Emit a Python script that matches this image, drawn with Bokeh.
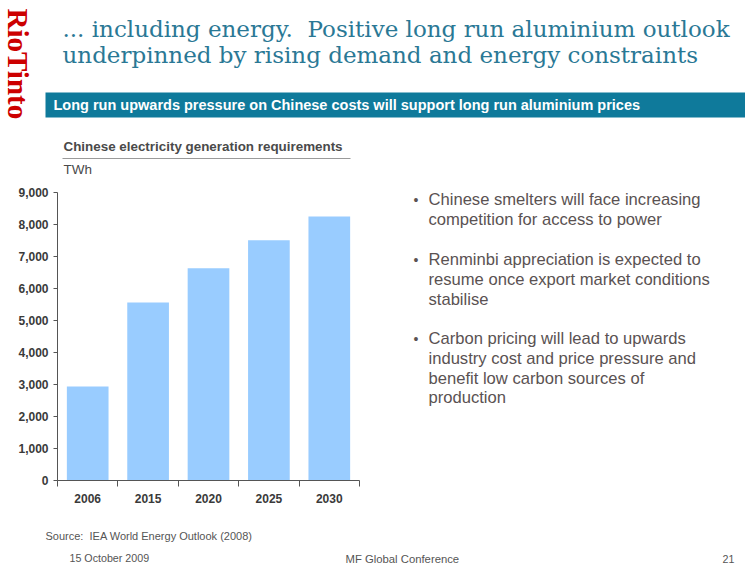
from bokeh.plotting import figure
from bokeh.layouts import column, row
from bokeh.models import (Range1d, LinearAxis, FixedTicker, NumeralTickFormatter,
                          Label, BoxAnnotation, ColumnDataSource)
from bokeh.embed import file_html
from bokeh.resources import INLINE
import numpy as np

# ---------------- data ----------------
years = ["2006", "2015", "2020", "2025", "2030"]
twh = [2940, 5560, 6630, 7510, 8250]
y_ticks = [0, 1000, 2000, 3000, 4000, 5000, 6000, 7000, 8000, 9000]

NB = "\u00a0"
title_lines = ["... including energy." + NB + " Positive long run aluminium outlook",
               "underpinned by rising demand and energy constraints"]
banner_text = "Long run upwards pressure on Chinese costs will support long run aluminium prices"
chart_title = "Chinese electricity generation requirements"
unit_text = "TWh"
bullets = [
    ["Chinese smelters will face increasing", "competition for access to power"],
    ["Renminbi appreciation is expected to", "resume once export market conditions", "stabilise"],
    ["Carbon pricing will lead to upwards", "industry cost and price pressure and",
     "benefit low carbon sources of", "production"],
]
source_text = "Source:" + NB + " IEA World Energy Outlook (2008)"
date_text = "15 October 2009"
conf_text = "MF Global Conference"
page_text = "21"
logo_text = "RioTinto"

# ---------------- layout constants ----------------
W, H = 745, 567
SANS = "Liberation Sans"
SERIF = "Liberation Serif"
TITLE_FONT = "DejaVu Serif"


def panel(x0, x1, y0, y1, fl=None, fr=None):
    """A blank figure covering page pixels x0..x1, y0..y1 (y downward).
    If fl/fr are given, the frame spans page x fl..fr only."""
    kw = dict(min_border=0)
    xr = Range1d(x0, x1)
    if fl is not None:
        kw = dict(min_border_left=fl - x0, min_border_right=x1 - fr,
                  min_border_top=0, min_border_bottom=0)
        xr = Range1d(fl, fr)
    f = figure(width=x1 - x0, height=y1 - y0, output_backend="svg",
               toolbar_location=None, x_range=xr,
               y_range=Range1d(y1, y0), x_axis_location=None,
               y_axis_location=None, **kw)
    f.outline_line_color = None
    f.grid.visible = False
    f.background_fill_color = "white"
    f.border_fill_color = "white"
    return f


def lab(f, x, y, text, size, color, font=SANS, style="normal", align="left",
        baseline="middle", angle=0):
    f.add_layout(Label(x=x, y=y, text=text, text_font=font,
                       text_font_size=size, text_color=color,
                       text_font_style=style, text_align=align,
                       text_baseline=baseline, angle=angle))


def box(f, l, r, t, b, color):
    f.add_layout(BoxAnnotation(left=l, right=r, top=t, bottom=b,
                               fill_color=color, fill_alpha=1, line_color=None))


# ---- top: logo, title, banner ----
top = panel(0, W, 0, 130)
lab(top, 17, 8, logo_text, "29px", "#cc0000", font=SERIF, style="bold",
    angle=-np.pi / 2)
lab(top, 62, 28.5, title_lines[0], "23px", "#2a7895", font=TITLE_FONT,
    baseline="alphabetic")
lab(top, 62, 54, title_lines[1], "23px", "#2a7895", font=TITLE_FONT,
    baseline="alphabetic")
box(top, 45, 745, 92, 117, "#0f7a9b")
lab(top, 53, 104.5, banner_text, "14.5px", "white", style="bold")

# ---- chart heading (frame aligned with the chart frame) ----
FL, FR, FT, FB = 57, 359, 192, 480   # chart frame in page pixels
head = panel(0, 370, 130, 185, fl=FL, fr=FR)
lab(head, 63, 146, chart_title, "13.4px", "#4a4a4a", style="bold")
box(head, 62, 350, 157.5, 158.5, "#9a9a9a")
lab(head, 63, 169, unit_text, "13.5px", "#4a4a4a")

# ---- chart ----
CX0, CX1, CY0, CY1 = 0, 370, 185, 520
xc = np.arange(len(years)) + 0.5
src = ColumnDataSource(dict(x=xc, top=twh))

p = figure(width=CX1 - CX0, height=CY1 - CY0, output_backend="svg",
           toolbar_location=None,
           x_range=Range1d(0, len(years)), y_range=Range1d(0, 9000),
           x_axis_location=None, y_axis_location=None,
           min_border_left=FL - CX0, min_border_right=CX1 - FR,
           min_border_top=FT - CY0, min_border_bottom=CY1 - FB)
p.outline_line_color = None
p.grid.visible = False
p.background_fill_color = "white"
p.border_fill_color = "white"

p.vbar(x="x", top="top", width=0.69, bottom=0, source=src,
       fill_color="#99ccff", line_color=None)

ya = LinearAxis(ticker=FixedTicker(ticks=y_ticks, minor_ticks=[]),
                formatter=NumeralTickFormatter(format="0,0"))
ya.axis_line_color = "#555555"
ya.major_tick_line_color = "#555555"
ya.major_tick_out = 4
ya.major_tick_in = 0
ya.minor_tick_line_color = None
ya.major_label_text_font = SANS
ya.major_label_text_font_size = "12px"
ya.major_label_text_font_style = "bold"
ya.major_label_text_color = "#3a3a3a"
ya.major_label_standoff = 5
p.add_layout(ya, "left")

xa = LinearAxis(ticker=FixedTicker(ticks=list(xc),
                                   minor_ticks=list(range(len(years) + 1))))
xa.major_label_overrides = {float(x): y for x, y in zip(xc, years)}
xa.axis_line_color = "#555555"
xa.major_tick_line_color = None
xa.minor_tick_line_color = "#555555"
xa.minor_tick_out = 6
xa.minor_tick_in = 0
xa.major_label_text_font = SANS
xa.major_label_text_font_size = "12px"
xa.major_label_text_font_style = "bold"
xa.major_label_text_color = "#3a3a3a"
xa.major_label_standoff = 7
p.add_layout(xa, "below")

# ---- bullets ----
bl = panel(370, W, 130, 520)
ystarts = [199, 259, 338]
for lines, y0 in zip(bullets, ystarts):
    lab(bl, 413, y0, "\u2022", "14px", "#5a5252")
    for i, t in enumerate(lines):
        lab(bl, 428, y0 + i * 19.8, t, "16.6px", "#5a5252")

# ---- footer ----
ft = panel(0, W, 520, H)
lab(ft, 45, 535, source_text, "11px", "#555555")
lab(ft, 69, 557, date_text, "10.7px", "#555555")
lab(ft, 345, 558, conf_text, "11.3px", "#555555")
lab(ft, 722, 558, page_text, "10.7px", "#555555")

layout = column(top, row(column(head, p), bl), ft)
open("out.html", "w").write(file_html(layout, INLINE))
